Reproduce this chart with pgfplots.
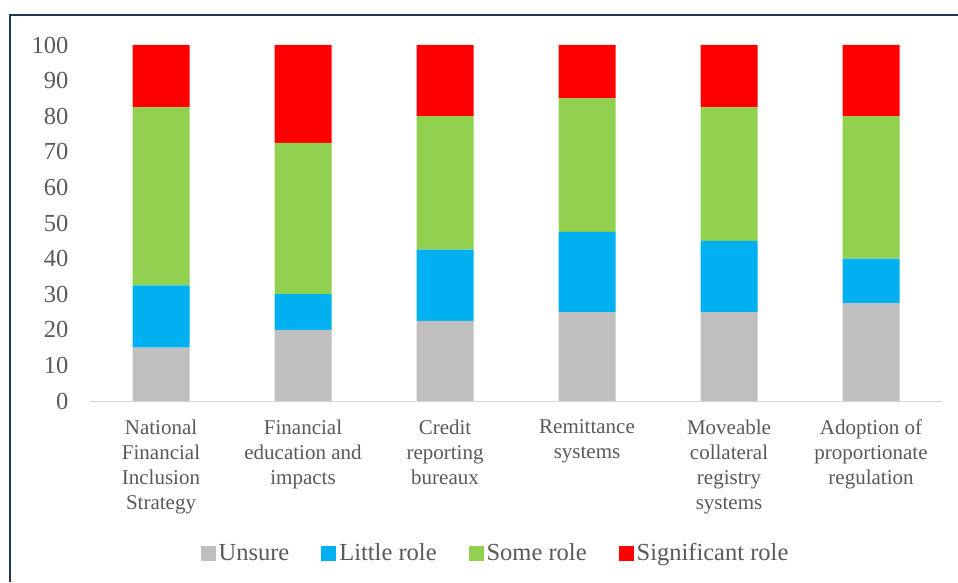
\documentclass[border=0pt]{standalone}
\usepackage{pgfplots}
\pgfplotsset{compat=1.18}
\usepackage{fontspec}
\setmainfont{Liberation Serif}
\definecolor{txt}{HTML}{595959}
\definecolor{cUnsure}{HTML}{BFBFBF}
\definecolor{cLittle}{HTML}{00B0F0}
\definecolor{cSome}{HTML}{92D050}
\definecolor{cSig}{HTML}{FF0000}
\definecolor{frame}{HTML}{1F3550}
\begin{document}
\begin{tikzpicture}[x=1pt,y=1pt]
\useasboundingbox (0,0) rectangle (958,582);
\draw[frame, line width=1.5pt] (10,0) -- (10,567) -- (958,567);
\begin{axis}[
  at={(90pt,181pt)}, anchor=south west,
  scale only axis, width=852pt, height=356pt,
  ybar stacked, bar width=57pt,
  xmin=-0.5, xmax=5.5, ymin=0, ymax=100,
  xtick=data,
  xticklabels={National\\Financial\\Inclusion\\Strategy, Financial\\education and\\impacts, Credit\\reporting\\bureaux, Remittance\\systems, Moveable\\collateral\\registry\\systems, Adoption of\\proportionate\\regulation},
  ytick={0,10,...,100},
  major tick length=0pt,
  axis x line*=bottom, axis y line*=left,
  x axis line style={draw=black!15, line width=1pt, -},
  y axis line style={draw=none},
  yticklabel style={font=\fontsize{24.5}{26}\selectfont, text=txt, anchor=east, xshift=-18pt},
  xticklabel style={font=\fontsize{21}{25}\selectfont, text=txt, align=center, anchor=north, yshift=-15pt},
  /pgf/number format/assume math mode=true,
  legend columns=4,
  legend style={at={(0.4765,-0.427)}, anchor=center, draw=none, fill=none,
    font=\fontsize{24.5}{26}\selectfont, text=txt,
    /tikz/every even column/.append style={column sep=29pt},
    nodes={inner sep=3pt}},
  legend image code/.code={\fill[#1] (0pt,-7.5pt) rectangle (15pt,7.5pt);},
  every axis plot/.append style={draw=none},
]
\addplot[fill=cUnsure] coordinates {(0,15) (1,20) (2,22.5) (3,25) (4,25) (5,27.5)};
\addplot[fill=cLittle] coordinates {(0,17.5) (1,10) (2,20) (3,22.5) (4,20) (5,12.5)};
\addplot[fill=cSome] coordinates {(0,50) (1,42.5) (2,37.5) (3,37.5) (4,37.5) (5,40)};
\addplot[fill=cSig] coordinates {(0,17.5) (1,27.5) (2,20) (3,15) (4,17.5) (5,20)};
\legend{Unsure, Little role, Some role, Significant role}
\end{axis}
\end{tikzpicture}
\end{document}
